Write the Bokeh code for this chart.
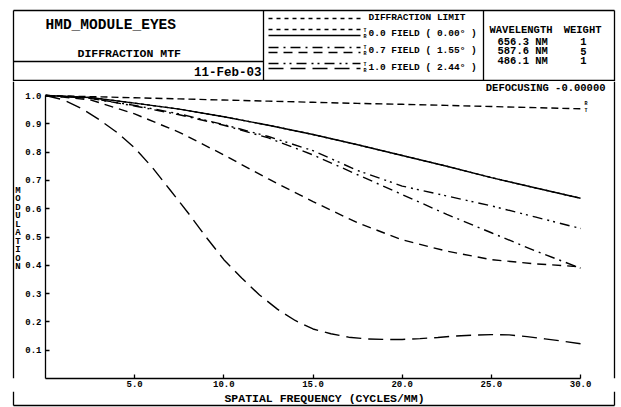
from bokeh.plotting import figure
from bokeh.layouts import column, row
from bokeh.models import Range1d, FixedTicker, PrintfTickFormatter
from bokeh.core.properties import value
from bokeh.embed import file_html
from bokeh.resources import INLINE

# ---------------- data ----------------
freq = [0, 2.5, 5, 7.5, 10, 12.5, 15, 17.5, 20, 22.5, 25, 27.5, 30]
diff_limit = [1.0, 0.996, 0.992, 0.988, 0.984, 0.980, 0.976, 0.972, 0.969, 0.965, 0.961, 0.957, 0.953]
field00 = [1.0, 0.993, 0.973, 0.952, 0.925, 0.895, 0.862, 0.826, 0.788, 0.750, 0.710, 0.673, 0.637]
field07_t = [1.0, 0.990, 0.963, 0.932, 0.895, 0.850, 0.790, 0.720, 0.650, 0.580, 0.515, 0.450, 0.390]
field07_r = [1.0, 0.985, 0.935, 0.870, 0.790, 0.705, 0.625, 0.550, 0.490, 0.450, 0.420, 0.405, 0.395]
field10_t = [1.0, 0.990, 0.965, 0.935, 0.897, 0.855, 0.805, 0.735, 0.680, 0.645, 0.610, 0.570, 0.530]
freq_fine = [0, 1, 2, 3, 4, 5, 6, 7, 8, 9, 10, 11, 12, 13, 14, 15, 16, 17, 18, 19, 20,
             21, 22, 23, 24, 25, 26, 27, 28, 29, 30]
field10_r = [1.0, 0.985, 0.955, 0.915, 0.870, 0.815, 0.745, 0.665, 0.585, 0.500, 0.420,
             0.355, 0.295, 0.245, 0.205, 0.175, 0.158, 0.146, 0.140, 0.138, 0.138,
             0.141, 0.145, 0.150, 0.153, 0.155, 0.154, 0.148, 0.140, 0.132, 0.123]

x_ticks = [5, 10, 15, 20, 25, 30]
y_ticks = [0.1, 0.2, 0.3, 0.4, 0.5, 0.6, 0.7, 0.8, 0.9, 1.0]

title_text = "HMD_MODULE_EYES"
subtitle_text = "DIFFRACTION MTF"
date_text = "11-Feb-03"
legend_labels = ["DIFFRACTION LIMIT", "0.0 FIELD ( 0.00\u00b0 )", "0.7 FIELD ( 1.55\u00b0 )", "1.0 FIELD ( 2.44\u00b0 )"]
wavelength_header = ["WAVELENGTH", "WEIGHT"]
wavelengths = ["656.3 NM", "587.6 NM", "486.1 NM"]
weights = ["1", "5", "1"]
defocus_text = "DEFOCUSING -0.00000"
x_title = "SPATIAL FREQUENCY (CYCLES/MM)"
y_title = "MODULATION"

FONT = "Liberation Mono"
LW = 1.3
CURVE_W = 1.4

# ---------------- layout geometry (pixels) ----------------
W, H = 621, 407
HEAD_H = 81          # header strip height
BOT_Y = 391          # top of bottom strip
LEFT_W = 22
RIGHT_X = 606
FL, FB = 44, 378                     # data origin (0, 0)
PX_PER_F = 536 / 30.0                # x scale
PX_PER_M = 283 / 1.0                 # y scale
OL, ORr, OT, OB = 13, 614, 10, 405   # outer border


def pixel_fig(x0, x1, y0, y1):
    f = figure(width=x1 - x0, height=y1 - y0, output_backend="svg", toolbar_location=None,
               x_range=Range1d(x0, x1), y_range=Range1d(y1, y0),
               x_axis_type=None, y_axis_type=None, min_border=0)
    f.outline_line_color = None
    f.grid.visible = False
    f.background_fill_color = "white"
    f.border_fill_color = "white"
    return f


def seg(f, x0, y0, x1, y1, dash="solid", width=LW):
    f.segment(x0=[x0], y0=[y0], x1=[x1], y1=[y1], line_color="black", line_width=width, line_dash=dash)


def txt(f, x, y, s, size, align="left", baseline="middle"):
    f.text(x=[x], y=[y], text=[s], text_align=align, text_baseline=baseline,
           text_font=value(FONT), text_font_style="bold", text_font_size=size, text_color="black")


# ---------------- header ----------------
head = pixel_fig(0, W, 0, HEAD_H)
seg(head, OL, OT, ORr, OT)
seg(head, OL, OT, OL, HEAD_H)
seg(head, ORr, OT, ORr, HEAD_H)
seg(head, OL, 80, ORr, 80)
seg(head, 263, OT, 263, 80)
seg(head, 483, OT, 483, 80)
seg(head, OL, 61, 263, 61)

txt(head, 45, 24, title_text, "14.5px")
txt(head, 77, 53, subtitle_text, "11.5px")
txt(head, 261, 72, date_text, "12.5px", align="right")

LX0, LX1 = 268, 360
seg(head, LX0, 18, LX1, 18, dash="4 4")
seg(head, LX0, 29, LX1, 29, dash="4 4")
seg(head, LX0, 35, LX1, 35)
seg(head, LX0, 47, LX1, 47, dash="10 5 2 5")
seg(head, LX0, 52, LX1, 52, dash="9 6")
seg(head, LX0, 63, LX1, 63, dash="10 5 2 4 2 5")
seg(head, LX0, 68, LX1, 68, dash="15 7")
for lab, yy in zip(legend_labels, (17, 33, 50, 67)):
    txt(head, 368, yy, lab, "9.5px")
for yy in (30, 47, 64):
    txt(head, 363, yy, "T", "5px")
    txt(head, 363, yy + 6, "R", "5px")

txt(head, 489, 29, wavelength_header[0], "10.5px")
txt(head, 601, 29, wavelength_header[1], "10.5px", align="right")
for i, (wl, wt) in enumerate(zip(wavelengths, weights)):
    yy = 41 + i * 9.5
    txt(head, 497, yy, wl, "10.5px")
    txt(head, 583, yy, wt, "10.5px", align="center")

# ---------------- left strip ----------------
left = pixel_fig(0, LEFT_W, HEAD_H, BOT_Y)
seg(left, OL, HEAD_H, OL, BOT_Y)
for i, ch in enumerate(y_title):
    txt(left, 17.5, 195 + i * 8.9, ch, "9px", align="center")

# ---------------- main plot ----------------
x_end = (RIGHT_X - FL) / PX_PER_F
y_end = (FB - HEAD_H) / PX_PER_M
p = figure(width=RIGHT_X - LEFT_W, height=BOT_Y - HEAD_H, output_backend="svg", toolbar_location=None,
           x_range=Range1d(0, x_end), y_range=Range1d(0, y_end),
           min_border_left=FL - LEFT_W, min_border_right=0,
           min_border_top=0, min_border_bottom=BOT_Y - FB)
p.outline_line_color = None
p.grid.visible = False
p.background_fill_color = "white"
p.border_fill_color = "white"

for ax in (p.xaxis, p.yaxis):
    ax.axis_label = None
    ax.axis_line_color = "black"
    ax.axis_line_width = LW
    ax.major_tick_line_color = "black"
    ax.major_tick_line_width = LW
    ax.major_tick_in = 4
    ax.major_tick_out = 0
    ax.minor_tick_line_color = None
    ax.major_label_text_font = FONT
    ax.major_label_text_font_style = "bold"
    ax.major_label_text_font_size = "9px"
    ax.major_label_text_color = "black"
p.xaxis.bounds = (0, 30)
p.yaxis.bounds = (0, 1.0)
p.xaxis.ticker = FixedTicker(ticks=x_ticks)
p.yaxis.ticker = FixedTicker(ticks=y_ticks)
p.xaxis.formatter = PrintfTickFormatter(format="%.1f")
p.yaxis.formatter = PrintfTickFormatter(format="%.1f")
p.xaxis.major_label_standoff = 2
p.yaxis.major_label_standoff = 4

p.line(freq, diff_limit, line_color="black", line_width=CURVE_W, line_dash="7 4")
p.line(freq, field00, line_color="black", line_width=CURVE_W, line_dash="3 3")
p.line(freq, field00, line_color="black", line_width=CURVE_W)
p.line(freq, field07_t, line_color="black", line_width=CURVE_W, line_dash="10 5 2 5")
p.line(freq, field07_r, line_color="black", line_width=CURVE_W, line_dash="9 6")
p.line(freq, field10_t, line_color="black", line_width=CURVE_W, line_dash="10 5 2 4 2 5")
p.line(freq_fine, field10_r, line_color="black", line_width=CURVE_W, line_dash="15 7")


def fx(px):
    return (px - FL) / PX_PER_F


def fy(py):
    return (FB - py) / PX_PER_M


txt(p, fx(605), fy(87.5), defocus_text, "10.5px", align="right")
txt(p, fx(584), fy(103), "R", "5px")
txt(p, fx(584), fy(110), "T", "5px")

# ---------------- right strip ----------------
right = pixel_fig(RIGHT_X, W, HEAD_H, BOT_Y)
seg(right, ORr, HEAD_H, ORr, BOT_Y)

# ---------------- bottom strip ----------------
bottom = pixel_fig(0, W, BOT_Y, H)
seg(bottom, OL, BOT_Y, OL, OB)
seg(bottom, ORr, BOT_Y, ORr, OB)
seg(bottom, OL, OB, ORr, OB)
txt(bottom, 324, 398, x_title, "11.5px", align="center")

layout = column(head, row(left, p, right, spacing=0), bottom, spacing=0)

open("out.html", "w").write(file_html(layout, INLINE))
